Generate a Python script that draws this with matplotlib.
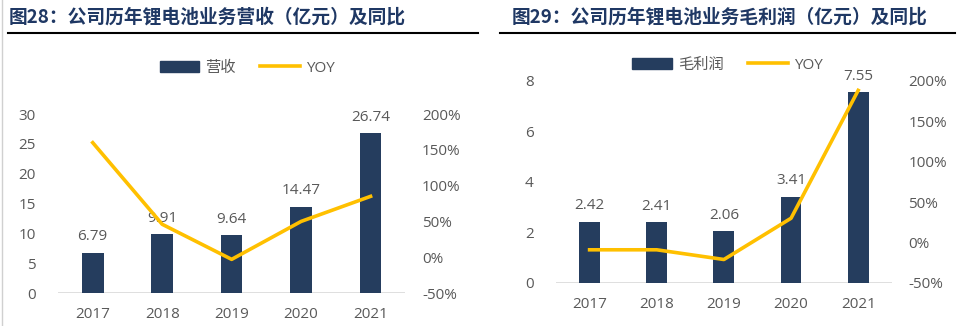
import matplotlib.pyplot as plt
from matplotlib.lines import Line2D
from matplotlib.patches import Patch
from matplotlib.ticker import FuncFormatter

plt.rcParams['font.family'] = ['Open Sans', 'Noto Sans CJK SC', 'DejaVu Sans']

years = ["2017", "2018", "2019", "2020", "2021"]
revenue = [6.79, 9.91, 9.64, 14.47, 26.74]
revenue_yoy = [160, 46, -3, 50, 85]
gross_profit = [2.42, 2.41, 2.06, 3.41, 7.55]
profit_yoy = [-9, -9, -21, 30, 188]

title_left = "图28：公司历年锂电池业务营收（亿元）及同比"
title_right = "图29：公司历年锂电池业务毛利润（亿元）及同比"

BAR = "#253d5e"
LINE = "#ffc000"
TXT = "#595959"
TITLE = "#1f3864"

fig = plt.figure(figsize=(9.62, 3.26), dpi=100)


def panel(rect, values, yoy, ymax, ystep, bar_name, legend_xy):
    ax = fig.add_axes(rect)
    x = range(len(years))
    ax.bar(x, values, width=0.31, color=BAR, zorder=2)
    for xi, v in zip(x, values):
        ax.annotate(f"{v:.2f}", (xi, v), xytext=(0, 6), textcoords="offset points",
                    ha="center", va="bottom", fontsize=11, color=TXT)
    ax.set_xlim(-0.5, len(years) - 0.5)
    ax.set_ylim(0, ymax)
    ax.set_yticks(range(0, ymax + 1, ystep))
    ax.set_xticks(list(x))
    ax.set_xticklabels(years)
    for s in ax.spines.values():
        s.set_visible(False)
    ax.axhline(0, color="#d9d9d9", lw=1.2, zorder=1)
    ax.tick_params(length=0, labelsize=11, colors=TXT)
    ax.tick_params(axis="x", pad=10)
    ax.tick_params(axis="y", pad=16)

    ax2 = ax.twinx()
    ax2.plot(list(x), yoy, color=LINE, lw=2.6, zorder=3)
    ax2.set_ylim(-50, 200)
    ax2.set_yticks(range(-50, 201, 50))
    ax2.yaxis.set_major_formatter(FuncFormatter(lambda v, p: f"{v:.0f}%"))
    for s in ax2.spines.values():
        s.set_visible(False)
    ax2.tick_params(length=0, labelsize=11, colors=TXT, pad=12)

    handles = [Patch(color=BAR), Line2D([0], [0], color=LINE, lw=2.6)]
    fig.legend(handles, [bar_name, "YOY"], loc="center", bbox_to_anchor=legend_xy,
               ncol=2, frameon=False, fontsize=11, labelcolor=TXT,
               handlelength=2.6, handleheight=0.8, columnspacing=1.6, handletextpad=0.4)
    return ax


panel([0.0603, 0.1012, 0.361, 0.549], revenue, revenue_yoy, 30, 5, "营收", (0.257, 0.791))
panel([0.578, 0.132, 0.349, 0.6205], gross_profit, profit_yoy, 8, 2, "毛利润", (0.756, 0.80))

# titles and rules under them
fig.text(0.009, 0.948, title_left, fontsize=13.5, fontweight="bold", color=TITLE,
         va="center", family=["Noto Sans CJK SC", "DejaVu Sans"])
fig.text(0.532, 0.948, title_right, fontsize=13.5, fontweight="bold", color=TITLE,
         va="center", family=["Noto Sans CJK SC", "DejaVu Sans"])
fig.add_artist(Line2D([0.008, 0.497], [0.899, 0.899], color="black", lw=1.5))
fig.add_artist(Line2D([0.52, 0.993], [0.899, 0.899], color="black", lw=1.5))
fig.add_artist(Line2D([0.002, 0.002], [0.0, 1.0], color="#d0d0d0", lw=1))

fig.savefig("out.png", dpi=100)
